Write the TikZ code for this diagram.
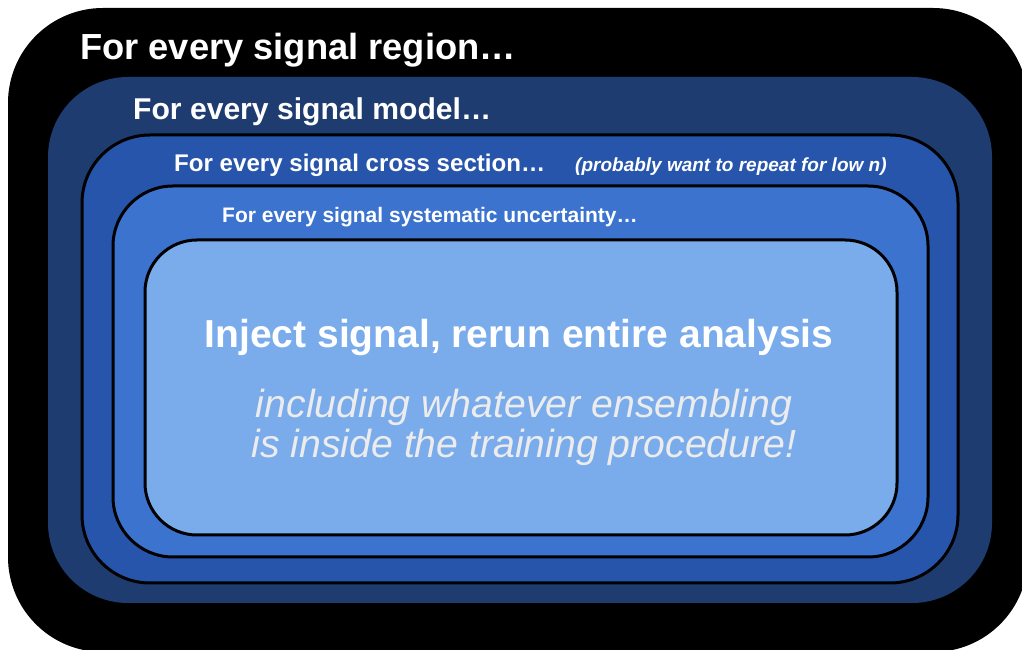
\documentclass[tikz,border=0pt]{standalone}
\usepackage{fontspec}
\setmainfont{Liberation Sans}
\usepackage{xcolor}
\usetikzlibrary{positioning}
\definecolor{loopnavy}{RGB}{30,60,112}
\definecolor{loopblue}{RGB}{39,85,172}
\definecolor{loopmid}{RGB}{59,115,207}
\definecolor{looplight}{RGB}{122,172,236}
\definecolor{notegrey}{RGB}{236,236,236}

\begin{document}
\begin{tikzpicture}[
        x=1pt, y=1pt,
        loopbox/.style={draw=black, line width=3pt},
        looptext/.style={anchor=base west, text=white, inner sep=0pt}
    ]
    \useasboundingbox (0,0) rectangle (1022,650);

    % Nested loops
    \fill[black, rounded corners=95pt] (8,-2) rectangle (1028,642);
    \fill[loopnavy, rounded corners=80pt] (48,47) rectangle (992,573);
    \filldraw[loopbox, fill=loopblue, rounded corners=68pt] (82,67) rectangle (958,515);
    \filldraw[loopbox, fill=loopmid, rounded corners=60pt] (113,93) rectangle (928,464);
    \filldraw[loopbox, fill=looplight, rounded corners=52pt] (145,115) rectangle (897,410);

    % Loop labels
    \node[looptext, font=\fontsize{36.3}{40}\selectfont\bfseries] (region) at (80,590) {For every signal region…};
    \node[looptext, font=\fontsize{30.1}{34}\selectfont\bfseries] (model) at (133,530) {For every signal model…};
    \node[looptext, font=\fontsize{24.1}{28}\selectfont\bfseries] (xsec) at (174,478) {For every signal cross section…};
    \node[looptext, font=\fontsize{19}{22}\selectfont\bfseries\itshape] (lown) at (575,478) {(probably want to repeat for low n)};
    \node[looptext, font=\fontsize{21}{24}\selectfont\bfseries] (syst) at (222,427) {For every signal systematic uncertainty…};

    % Innermost step
    \node[anchor=base, text=white, inner sep=0pt, font=\fontsize{39}{44}\selectfont\bfseries] (inject) at (519,302) {Inject signal, rerun entire analysis};
    \node[anchor=base, text=notegrey, inner sep=0pt, align=center, font=\fontsize{39.2}{40}\selectfont\itshape] (ensemble) at (524,192) {including whatever ensembling\\is inside the training procedure!};

\end{tikzpicture}
\end{document}
